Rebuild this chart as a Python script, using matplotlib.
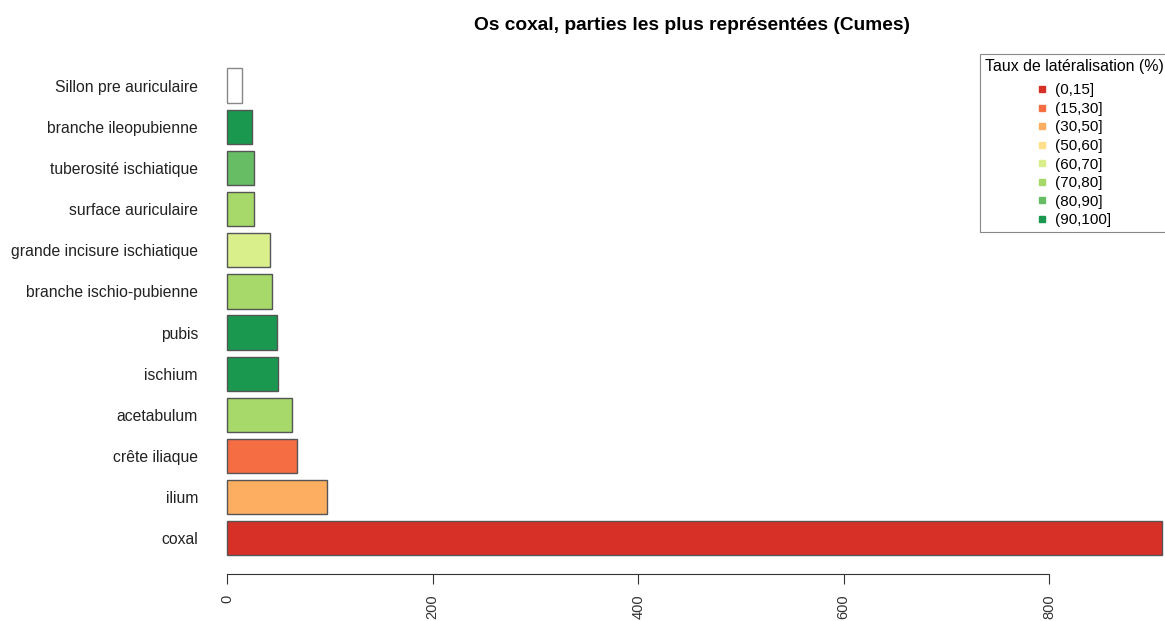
import numpy as np
import matplotlib
matplotlib.use("Agg")
import matplotlib.pyplot as plt
from matplotlib.lines import Line2D

plt.rcParams['font.family'] = ['Liberation Sans', 'DejaVu Sans']

# data (bottom to top)
parties = ['coxal', 'ilium', 'crête iliaque', 'acetabulum', 'ischium', 'pubis',
           'branche ischio-pubienne', 'grande incisure ischiatique',
           'surface auriculaire', 'tuberosité ischiatique',
           'branche ileopubienne', 'Sillon pre auriculaire']
nombre = [910, 97, 68, 63, 49, 48, 44, 42, 26, 26, 24, 14]
classe = ['(0,15]', '(30,50]', '(15,30]', '(70,80]', '(90,100]', '(90,100]',
          '(70,80]', '(60,70]', '(70,80]', '(80,90]', '(90,100]', None]

classes = ['(0,15]', '(15,30]', '(30,50]', '(50,60]', '(60,70]',
           '(70,80]', '(80,90]', '(90,100]']
couleurs = ['#d73027', '#f46d43', '#fdae61', '#fee08b', '#d9ef8b',
            '#a6d96a', '#66bd63', '#1a9850']
col_map = dict(zip(classes, couleurs))

fig = plt.figure(figsize=(11.65, 6.21), dpi=100)
W, H = 1165, 621
# axes in pixels: left 201.6, right 1199, top 40, bottom 574
ax = fig.add_axes([201.6 / W, (H - 574) / H, (1199 - 201.6) / W, (574 - 40) / H])

pos = np.arange(len(parties)) * 1.2
fills = [col_map[c] if c else 'white' for c in classe]
edges = ['#555555' if c else '#888888' for c in classe]
ax.barh(pos, nombre, height=1.0, color=fills, edgecolor=edges, linewidth=1)

ax.set_xlim(-25, 946)
ax.set_ylim(-1.04, 14.53)
ax.set_yticks(pos)
ax.set_yticklabels(parties, fontsize=11.3, color='#222222')
ax.tick_params(axis='y', left=False, length=0, pad=2.6)
ax.set_xticks([0, 200, 400, 600, 800])
ax.set_xticklabels(['0', '200', '400', '600', '800'], rotation=90, fontsize=10.5,
                   color='#333333')
ax.tick_params(axis='x', length=7, width=0.8, color='#333333', pad=8)
for s in ['top', 'right', 'left']:
    ax.spines[s].set_visible(False)
ax.spines['bottom'].set_bounds(0, 800)
ax.spines['bottom'].set_linewidth(0.8)
ax.spines['bottom'].set_color('#333333')

fig.text(692 / W, 1 - 25 / H, 'Os coxal, parties les plus représentées (Cumes)',
         ha='center', va='center', fontsize=13.8, fontweight='bold')

handles = [Line2D([], [], marker='s', linestyle='none', markersize=5,
                  markerfacecolor=c, markeredgecolor=c) for c in couleurs]
leg = fig.legend(handles, classes, title='Taux de latéralisation (%)',
                 loc='upper left', bbox_to_anchor=(980 / W, 1 - 54 / H),
                 borderaxespad=0, fontsize=11, title_fontsize=11.4,
                 fancybox=False, edgecolor='#888888', framealpha=1,
                 handlelength=0.7, handletextpad=0.5, labelspacing=0.3,
                 borderpad=0.3)
leg._legend_box.sep = 7
leg.get_frame().set_linewidth(0.8)

fig.savefig('out.png', dpi=100)
